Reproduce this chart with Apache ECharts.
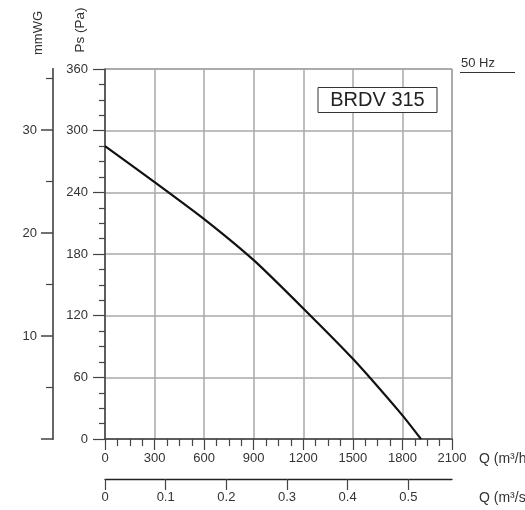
<!DOCTYPE html>
<html>
<head>
<meta charset="utf-8">
<script src="https://cdn.jsdelivr.net/npm/echarts@6/dist/echarts.min.js"></script>
<style>
  html, body { margin: 0; padding: 0; background: #fff; }
  #chart { width: 525px; height: 510px; }
</style>
</head>
<body>
<div id="chart"></div>
<script>
// Fan curve: airflow (m³/h) against static pressure (Pa)
const flowM3h = [0, 300, 600, 900, 1200, 1500, 1800, 1912];
const pressurePa = [285, 250, 214, 174, 127, 78, 23, 0];

// Tick labels on the secondary scales
const flowM3sTicks = [0, 0.1, 0.2, 0.3, 0.4, 0.5];
const mmwgLabels = [10, 20, 30];
const mmwgMajorTicks = [0, 10, 20, 30];
const mmwgMinorTicks = [5, 15, 25, 35];

const FONT = '"Liberation Sans", Arial, sans-serif';
const TEXT = '#333';
const AXIS = '#444';
const GRID = '#a9a9a9';

const chart = echarts.init(document.getElementById('chart'), null, { renderer: 'canvas' });

const curve = flowM3h.map((q, i) => [q, pressurePa[i]]);
const plain = v => String(v);

chart.setOption({
  animation: false,
  backgroundColor: '#fff',
  grid: {
    left: 105, right: 73, top: 69, bottom: 71,
    show: true, borderColor: '#666', borderWidth: 1
  },
  xAxis: [
    {
      type: 'value', gridIndex: 0, position: 'bottom',
      min: 0, max: 2100, interval: 300,
      axisLine: { show: true, onZero: false, lineStyle: { color: AXIS, width: 1.5 } },
      axisTick: { show: true, inside: false, length: 11, lineStyle: { color: AXIS, width: 1.2 } },
      minorTick: { show: true, splitNumber: 4, length: 7, lineStyle: { color: AXIS, width: 1.2 } },
      axisLabel: { margin: 13, fontSize: 13, color: TEXT, fontFamily: FONT, formatter: plain },
      splitLine: { show: true, lineStyle: { color: GRID, width: 1.5 } }
    },
    {
      type: 'value', gridIndex: 0, position: 'bottom', offset: 40,
      min: 0, max: 0.572,
      axisLine: { show: true, onZero: false, lineStyle: { color: '#222', width: 1.3 } },
      axisTick: { show: true, length: 11, customValues: flowM3sTicks, lineStyle: { color: AXIS, width: 1.2 } },
      axisLabel: {
        margin: 12, fontSize: 13, color: TEXT, fontFamily: FONT,
        customValues: flowM3sTicks, formatter: plain
      },
      splitLine: { show: false }
    }
  ],
  yAxis: [
    {
      type: 'value', gridIndex: 0, position: 'left',
      min: 0, max: 360, interval: 60,
      axisLine: { show: true, onZero: false, lineStyle: { color: AXIS, width: 1.5 } },
      axisTick: { show: true, inside: false, length: 12, lineStyle: { color: AXIS, width: 1.2 } },
      minorTick: { show: true, splitNumber: 4, length: 6, lineStyle: { color: AXIS, width: 1.2 } },
      axisLabel: { margin: 17, fontSize: 13, color: TEXT, fontFamily: FONT, formatter: plain },
      splitLine: { show: true, lineStyle: { color: GRID, width: 1.5 } }
    },
    {
      // mmWG scale: long ticks and labels
      type: 'value', gridIndex: 0, position: 'left', offset: 52,
      min: 0, max: 35.92,
      axisLine: { show: true, onZero: false, lineStyle: { color: '#666', width: 1.8 } },
      axisTick: { show: true, length: 12, customValues: mmwgMajorTicks, lineStyle: { color: '#444', width: 1.5 } },
      axisLabel: { margin: 16, fontSize: 13, color: TEXT, fontFamily: FONT, customValues: mmwgLabels, formatter: plain },
      splitLine: { show: false }
    },
    {
      // mmWG scale: short half-step ticks
      type: 'value', gridIndex: 0, position: 'left', offset: 52,
      min: 0, max: 35.92,
      axisLine: { show: true, onZero: false, lineStyle: { color: '#666', width: 1.8 } },
      axisTick: { show: true, length: 7, customValues: mmwgMinorTicks, lineStyle: { color: '#444', width: 1.2 } },
      axisLabel: { show: true, customValues: mmwgMinorTicks, formatter: () => '' },
      splitLine: { show: false }
    }
  ],
  series: [
    {
      type: 'line',
      xAxisIndex: 0, yAxisIndex: 0,
      data: curve,
      smooth: 0.2,
      symbol: 'none',
      lineStyle: { color: '#111', width: 2.2 },
      z: 5
    }
  ],
  graphic: [
    {
      type: 'text', x: 38, y: 33, rotation: Math.PI / 2,
      style: { text: 'mmWG', font: '13px ' + FONT, fill: TEXT, align: 'center', verticalAlign: 'middle' }
    },
    {
      type: 'text', x: 80, y: 30, rotation: Math.PI / 2,
      style: { text: 'Ps (Pa)', font: '13.5px ' + FONT, fill: TEXT, align: 'center', verticalAlign: 'middle' }
    },
    {
      type: 'text', x: 479, y: 459,
      style: { text: 'Q (m³/h)', font: '14px ' + FONT, fill: TEXT, align: 'left', verticalAlign: 'middle' }
    },
    {
      type: 'text', x: 479, y: 498,
      style: { text: 'Q (m³/s)', font: '14px ' + FONT, fill: TEXT, align: 'left', verticalAlign: 'middle' }
    },
    {
      type: 'text', x: 461, y: 63,
      style: { text: '50 Hz', font: '13px ' + FONT, fill: TEXT, align: 'left', verticalAlign: 'middle' }
    },
    {
      type: 'line', shape: { x1: 460, y1: 72.5, x2: 515, y2: 72.5 },
      style: { stroke: '#333', lineWidth: 1 }
    },
    {
      type: 'rect', shape: { x: 318, y: 87.5, width: 119, height: 25 },
      style: { fill: '#fff', stroke: '#333', lineWidth: 1 }, z: 10
    },
    {
      type: 'text', x: 377.5, y: 100.5, z: 11,
      style: { text: 'BRDV 315', font: '20px ' + FONT, fill: '#222', align: 'center', verticalAlign: 'middle' }
    }
  ]
});
</script>
</body>
</html>
